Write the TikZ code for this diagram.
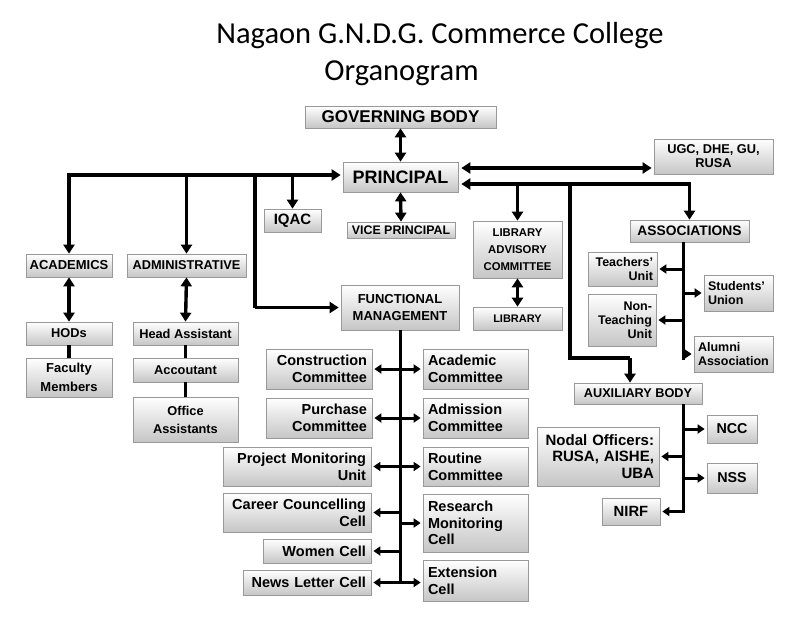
\documentclass[tikz,border=0pt]{standalone}
\usepackage{fontspec}
\setmainfont{Liberation Sans}
\newfontfamily\titlefont{Carlito}
\usetikzlibrary{arrows.meta,calc}
\begin{document}
\begin{tikzpicture}[x=1pt,y=-1pt,
  box/.style={draw=gray!80, line width=0.7pt, top color=white, bottom color=gray!45, inner sep=0pt, align=center, text=black},
  fs/.style 2 args={font=\fontsize{#1}{#2}\selectfont\bfseries},
  rbox/.style={box, align=right, inner xsep=5pt, text width=#1},
  lbox/.style={box, align=left, inner xsep=5pt, text width=#1},
  ln/.style={line width=3.4pt, draw=black},
  arr/.style={ln, -{Triangle[length=9pt,width=11pt]}},
  dbl/.style={ln, {Triangle[length=9pt,width=11pt]}-{Triangle[length=9pt,width=11pt]}},
  sln/.style={line width=3pt, draw=black},
  sarr/.style={sln, -{Triangle[length=7pt,width=9pt]}, shorten >=2pt},
  sdbl/.style={sln, {Triangle[length=7pt,width=9pt]}-{Triangle[length=7pt,width=9pt]}, shorten >=2pt, shorten <=2pt},
  ttl/.style={anchor=base, font=\titlefont\fontsize{30.5}{36}\selectfont}
]
\useasboundingbox[fill=white] (0,0) rectangle (803,637);

% title
\node[ttl] (t1) at (440,43) {Nagaon G.N.D.G. Commerce College};
\node[ttl] (t2) at (401.5,80) {Organogram};

% upper boxes
\node[box, fs={17}{20}, minimum width=191pt, minimum height=22pt] (gb) at (400.5,117) {GOVERNING BODY};
\node[box, fs={18}{20}, minimum width=115pt, minimum height=30pt] (pr) at (400.5,177) {PRINCIPAL};
\node[box, fs={12.8}{14}, minimum width=119pt, minimum height=35pt] (ugc) at (713.5,156.5) {UGC, DHE, GU,\\RUSA};
\node[box, fs={15}{18}, minimum width=57pt, minimum height=23pt] (iqac) at (292.5,220.5) {IQAC};
\node[box, fs={12.4}{14}, minimum width=108pt, minimum height=16pt] (vp) at (401,230) {VICE PRINCIPAL};
\node[box, fs={11.3}{16.7}, minimum width=89pt, minimum height=57pt] (lac) at (517.5,249.5) {LIBRARY\\ADVISORY\\COMMITTEE};
\node[box, fs={11}{13}, minimum width=89pt, minimum height=23pt] (lib) at (517.5,318.5) {LIBRARY};
\node[box, fs={13.8}{16}, minimum width=119pt, minimum height=22pt] (assoc) at (689.5,231) {ASSOCIATIONS};

% academics / administrative
\node[box, fs={13}{15}, minimum width=86pt, minimum height=23pt] (acad) at (69,265.5) {ACADEMICS};
\node[box, fs={12.8}{15}, minimum width=119pt, minimum height=23pt] (admin) at (186.5,265.5) {ADMINISTRATIVE};
\node[box, fs={12.8}{15}, minimum width=86pt, minimum height=23pt] (hod) at (69,333.5) {HODs};
\node[box, fs={13}{19}, minimum width=86pt, minimum height=39pt] (fac) at (69,377.5) {Faculty\\Members};
\node[box, fs={12.8}{15}, minimum width=105pt, minimum height=23pt] (ha) at (185.5,333.5) {Head Assistant};
\node[box, fs={12.8}{15}, minimum width=105pt, minimum height=24pt] (acc) at (185.5,370) {Accoutant};
\node[box, fs={12.8}{18}, minimum width=105pt, minimum height=45pt] (oa) at (185.5,419.5) {Office\\Assistants};

% functional management
\node[box, fs={13}{16.7}, minimum width=118pt, minimum height=45pt] (fm) at (400,307.5) {FUNCTIONAL\\MANAGEMENT};
\node[rbox=96pt, fs={14.5}{16.7}, minimum height=40pt] (cc) at (319,369) {Construction\\Committee};
\node[rbox=96pt, fs={14.5}{16.7}, minimum height=40pt] (pc) at (319,418) {Purchase\\Committee};
\node[rbox=138pt, fs={14.5}{16.7}, minimum height=39pt] (pmu) at (297,466.5) {Project Monitoring\\Unit};
\node[rbox=138pt, fs={14.5}{16.7}, minimum height=39pt] (ccc) at (297,512.5) {Career Councelling\\Cell};
\node[rbox=98pt, fs={14.5}{16.7}, minimum height=24pt] (wc) at (317,551) {Women Cell};
\node[rbox=118pt, fs={14.5}{16.7}, minimum height=25pt] (nlc) at (307,582.5) {News Letter Cell};
\node[lbox=95pt, fs={14.5}{16.7}, minimum height=40pt] (ac) at (475.5,369) {Academic\\Committee};
\node[lbox=95pt, fs={14.5}{16.7}, minimum height=40pt] (adm) at (475.5,418) {Admission\\Committee};
\node[lbox=95pt, fs={14.5}{16.7}, minimum height=39pt] (rc) at (475.5,466.5) {Routine\\Committee};
\node[lbox=95pt, fs={14.5}{16.7}, minimum height=58pt] (rmc) at (475.5,523) {Research\\Monitoring\\Cell};
\node[lbox=95pt, fs={14.5}{16.7}, minimum height=41pt] (ec) at (475.5,580.5) {Extension\\Cell};

% associations
\node[rbox=61pt, inner xsep=4pt, fs={12.5}{13.5}, minimum height=34pt] (tu) at (622.5,269) {Teachers’\\Unit};
\node[lbox=61pt, inner xsep=4pt, fs={12.5}{13.5}, minimum height=36pt] (su) at (738.5,293) {Students’\\Union};
\node[rbox=60pt, inner xsep=4pt, fs={12.5}{14}, minimum height=52pt] (ntu) at (622,320) {Non-\\Teaching\\Unit};
\node[lbox=71pt, inner xsep=4pt, fs={12.5}{13.5}, minimum height=36pt] (aa) at (733.5,354) {Alumni\\Association};

% auxiliary body
\node[box, fs={12.7}{15}, minimum width=128pt, minimum height=21pt] (aux) at (638,393.5) {AUXILIARY BODY};
\node[box, fs={14.3}{16}, minimum width=50pt, minimum height=28pt] (ncc) at (732,429) {NCC};
\node[rbox=112pt, fs={15}{16.3}, minimum height=59pt] (nodal) at (598,456.5) {Nodal Officers:\\RUSA, AISHE,\\UBA};
\node[box, fs={14.3}{16}, minimum width=50pt, minimum height=30pt] (nss) at (732,478) {NSS};
\node[box, fs={14.8}{16}, minimum width=58pt, minimum height=27pt] (nirf) at (631,511.5) {NIRF};

% coordinates for buses
\coordinate (ya) at (0,168);
\coordinate (rb) at (689.5,184);
\coordinate (lb) at (69,175);
\coordinate (fmA) at (255,175);
\coordinate (auxA) at (570,184);
\coordinate (auxB) at (570,358);
\coordinate (auxC) at (630,358);
\coordinate (at) at (683,360);
\coordinate (xt) at (683,511.5);

% upper connectors
\draw[dbl] (gb.south) -- (pr.north);
\draw[dbl] (pr.south) -- (vp.north);
\draw[dbl, shorten <=3pt, shorten >=2pt] (pr.east |- ya) -- (ugc.west |- ya);
\draw[dbl, shorten <=3pt] (pr.east |- rb) -- (rb) -- (assoc.north);
\draw[arr] (lac.north |- rb) -- (lac.north);
\draw[ln] (auxA) -- (auxB) -- (auxC) edge[arr] (auxC |- aux.north);
\draw[dbl, shorten >=2pt] (acad.north) -- (lb) -- (pr.west |- lb);
\draw[arr] (admin.north |- lb) -- (admin.north);
\draw[arr] (iqac.north |- lb) -- (iqac.north);
\draw[ln] (fmA) -- (fmA |- fm.west) edge[arr, shorten >=2pt] (fm.west);
\draw[dbl] (lac.south) -- (lib.north);

% academics / administrative connectors
\draw[dbl] (acad.south) -- (hod.north);
\draw[ln] (hod.south) -- (fac.north);
\draw[dbl] (admin.south) -- (ha.north);
\draw[ln] (ha.south) -- (acc.north);
\draw[ln] (acc.south) -- (oa.north);

% functional management connectors
\draw[sln] (fm.south) -- (fm.south |- nlc.east);
\draw[sdbl] (cc.east) -- (ac.west);
\draw[sdbl] (pc.east) -- (adm.west);
\draw[sdbl] (pmu.east) -- (rc.west);
\draw[sarr] (fm.south |- ccc.east) -- (ccc.east);
\draw[sarr] (fm.south |- rmc.west) -- (rmc.west);
\draw[sarr] (fm.south |- wc.east) -- (wc.east);
\draw[sdbl] (nlc.east) -- (ec.west |- nlc.east);

% associations connectors
\draw[sln] (at |- assoc.south) -- (at);
\draw[sarr] (at |- tu.east) -- (tu.east);
\draw[sarr] (at |- su.west) -- (su.west);
\draw[sarr] (at |- ntu.east) -- (ntu.east);
\draw[sarr] (at |- aa.west) -- (aa.west);

% auxiliary connectors
\draw[sarr] (xt |- aux.south) -- (xt) -- (nirf.east);
\draw[sarr] (xt |- ncc.west) -- (ncc.west);
\draw[sarr] (xt |- nodal.east) -- (nodal.east);
\draw[sarr] (xt |- nss.west) -- (nss.west);
\end{tikzpicture}
\end{document}
